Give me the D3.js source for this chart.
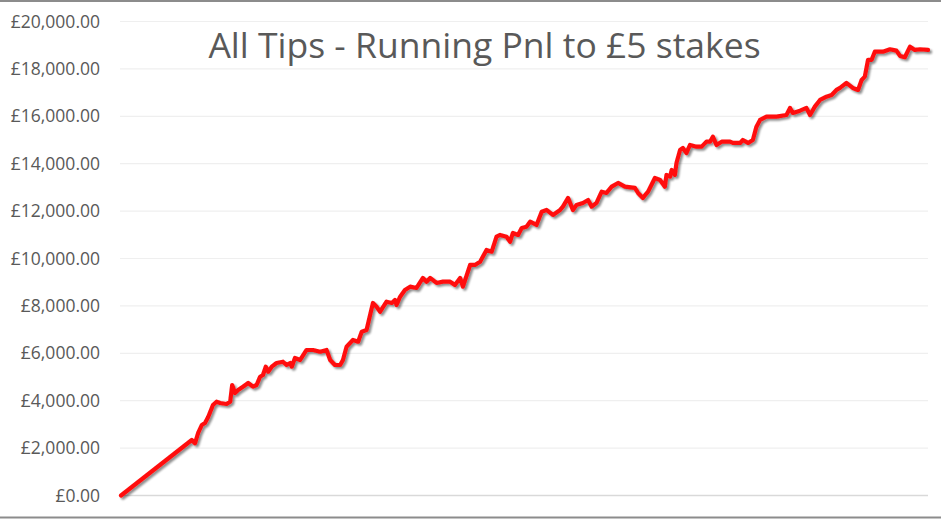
<!DOCTYPE html>
<html>
<head>
<meta charset="utf-8">
<script src="https://cdnjs.cloudflare.com/ajax/libs/d3/7.8.5/d3.min.js"></script>
<style>
	body { margin: 0; background: #fff; }
	svg { display: block; }
</style>
</head>
<body>
<div id="chart"></div>
<script>
	// running pnl (tip number, £)
	var tipNo = [0, 177, 185, 193, 202, 210, 218, 230, 239, 248, 264, 273, 278, 285, 293, 305, 318, 330, 339, 348,
		355, 362, 368, 377, 389, 405, 414, 423, 427, 435, 448, 464, 480, 498, 514, 523, 535, 548, 555, 564,
		580, 593, 602, 614, 630, 639, 648, 664, 677, 685, 689, 698, 710, 723, 739, 755, 764, 773, 789, 805,
		823, 835, 848, 855, 873, 885, 898, 914, 927, 939, 948, 964, 973, 980, 993, 1002, 1014, 1023, 1039, 1052,
		1064, 1080, 1098, 1105, 1118, 1130, 1139, 1155, 1168, 1177, 1189, 1202, 1214, 1227, 1243, 1260, 1285, 1293, 1305, 1318,
		1335, 1348, 1360, 1364, 1373, 1377, 1385, 1389, 1398, 1405, 1414, 1423, 1439, 1452, 1464, 1473, 1480, 1489, 1502, 1523,
		1530, 1548, 1555, 1568, 1580, 1589, 1598, 1614, 1639, 1664, 1673, 1680, 1698, 1714, 1723, 1735, 1748, 1764, 1777, 1789,
		1798, 1814, 1830, 1843, 1852, 1860, 1868, 1877, 1885, 1905, 1923, 1939, 1948, 1960, 1973, 1985, 1998, 2018]
	var pnl = [0, 2342, 2203, 2638, 2975, 3059, 3313, 3819, 3958, 3904, 3861, 3958, 4663, 4326, 4452, 4591, 4748, 4591, 4663, 5013,
		5085, 5435, 5224, 5435, 5592, 5646, 5507, 5592, 5435, 5803, 5718, 6140, 6140, 6068, 6140, 5718, 5507, 5507, 5718, 6279,
		6562, 6490, 6912, 6984, 8124, 7967, 7756, 8178, 8124, 8250, 8039, 8389, 8672, 8811, 8757, 9179, 9022, 9179, 8968, 9022,
		9022, 8883, 9179, 8811, 9727, 9727, 9866, 10360, 10288, 10921, 10993, 10921, 10710, 11077, 10993, 11288, 11343, 11554, 11415, 11976,
		12048, 11837, 12048, 12187, 12555, 12048, 12259, 12344, 12470, 12187, 12344, 12820, 12766, 13031, 13188, 13031, 12977, 12766, 12555, 12820,
		13399, 13314, 13031, 13525, 13453, 13736, 13525, 14032, 14580, 14665, 14453, 14791, 14719, 14719, 14930, 14930, 15141, 14791, 14930, 14930,
		14876, 14876, 15002, 14876, 15002, 15563, 15846, 15985, 15985, 16057, 16353, 16142, 16239, 16353, 16057, 16407, 16690, 16829, 16901, 17112,
		17197, 17408, 17197, 17112, 17534, 17673, 18384, 18384, 18728, 18728, 18830, 18770, 18547, 18492, 18939, 18800, 18830, 18800]
	var yTicks = [0, 2000, 4000, 6000, 8000, 10000, 12000, 14000, 16000, 18000, 20000]
	var title = "All Tips - Running Pnl to £5 stakes"

	var width = 941, height = 519
	var margin = { top: 21.5, right: 13, bottom: 23.5, left: 120 }

	var svg = d3.select("#chart").append("svg")
		.attr("width", width)
		.attr("height", height)
		.style("font-family", "'Open Sans', sans-serif")

	var defs = svg.append("defs")
	var shadow = defs.append("filter")
		.attr("id", "shadow")
		.attr("x", "-5%").attr("y", "-5%")
		.attr("width", "110%").attr("height", "110%")
	shadow.append("feGaussianBlur").attr("in", "SourceAlpha").attr("stdDeviation", 1.2)
	shadow.append("feOffset").attr("dx", 1.5).attr("dy", 1.5).attr("result", "off")
	shadow.append("feComponentTransfer").append("feFuncA").attr("type", "linear").attr("slope", 0.45)
	var merge = shadow.append("feMerge")
	merge.append("feMergeNode")
	merge.append("feMergeNode").attr("in", "SourceGraphic")

	// frame lines top and bottom
	svg.append("line").attr("x1", 0).attr("x2", width).attr("y1", 1).attr("y2", 1)
		.attr("stroke", "#8c8c8c").attr("stroke-width", 2)
	svg.append("line").attr("x1", 0).attr("x2", width).attr("y1", 517.5).attr("y2", 517.5)
		.attr("stroke", "#8c8c8c").attr("stroke-width", 2)

	var x = d3.scaleLinear()
		.domain([0, d3.max(tipNo)])
		.range([margin.left + 1, width - margin.right])
	var y = d3.scaleLinear()
		.domain([0, 20000])
		.range([height - margin.bottom, margin.top])

	var fmt = function (d) { return "£" + d3.format(",.2f")(d) }

	// gridlines
	svg.append("g")
		.selectAll("line")
		.data(yTicks)
		.enter().append("line")
		.attr("x1", margin.left)
		.attr("x2", width - margin.right)
		.attr("y1", function (d) { return y(d) })
		.attr("y2", function (d) { return y(d) })
		.attr("stroke", function (d) { return d == 0 ? "#d9d9d9" : "#efefef" })
		.attr("stroke-width", function (d) { return d == 0 ? 1.5 : 1.2 })

	// y labels
	var yAxis = svg.append("g")
		.attr("transform", "translate(" + (margin.left - 20) + ",0)")
		.call(d3.axisLeft(y).tickValues(yTicks).tickFormat(fmt).tickSize(0).tickPadding(0))
	yAxis.select(".domain").remove()
	yAxis.selectAll("text")
		.style("font-size", "17.5px")
		.style("font-family", "'Open Sans', sans-serif")
		.attr("fill", "#595959")

	// title
	svg.append("text")
		.attr("x", 484.5)
		.attr("y", 58)
		.attr("text-anchor", "middle")
		.style("font-size", "35.5px")
		.attr("fill", "#595959")
		.text(title)

	var line = d3.line()
		.x(function (d, i) { return x(tipNo[i]) })
		.y(function (d) { return y(d) })

	svg.append("path")
		.datum(pnl)
		.attr("d", line)
		.attr("fill", "none")
		.attr("stroke", "#ff0d0d")
		.attr("stroke-width", 4.2)
		.attr("stroke-linejoin", "round")
		.attr("stroke-linecap", "round")
		.attr("filter", "url(#shadow)")
</script>
</body>
</html>
